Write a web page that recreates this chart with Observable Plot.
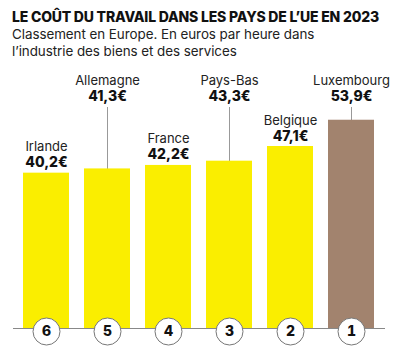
<!DOCTYPE html>
<html><head><meta charset="utf-8">
<script src="https://cdn.jsdelivr.net/npm/d3@7"></script>
<script src="https://cdn.jsdelivr.net/npm/@observablehq/plot@0.6"></script>
<style>
body{margin:0;background:#fff;font-family:Inter,"Noto Sans",sans-serif;width:398px;height:351px;overflow:hidden}
#hdr{height:64px;padding-left:12px;box-sizing:border-box}
#t{font-weight:800;font-size:14px;letter-spacing:-0.2px;padding-top:9px;line-height:16px;color:#111}
#s{font-size:13.4px;line-height:17px;color:#222;margin-top:1px;letter-spacing:-0.05px}
svg{display:block}
</style></head><body>
<div id="hdr"><div id="t">LE COÛT DU TRAVAIL DANS LES PAYS DE L’UE EN 2023</div>
<div id="s">Classement en Europe. En euros par heure dans<br>l’industrie des biens et des services</div></div>
<div id="chart"></div>
<script>
const countries = ["Irlande","Allemagne","France","Pays-Bas","Belgique","Luxembourg"];
const values = [40.2, 41.3, 42.2, 43.3, 47.1, 53.9];
const valueLabels = ["40,2€","41,3€","42,2€","43,3€","47,1€","53,9€"];
const ranks = [6,5,4,3,2,1];
const leaderLabels = ["Allemagne","Pays-Bas","Luxembourg"];
const highlight = "Luxembourg";

const data = countries.map((c,i)=>({country:c, value:values[i], label:valueLabels[i], rank:ranks[i]}));
const high = data.filter(d=>leaderLabels.includes(d.country));
const low = data.filter(d=>!leaderLabels.includes(d.country));

const H = 287, base = 264, k = 3.864;
const chart = Plot.plot({
  width: 398, height: H,
  marginTop: 0, marginLeft: 22, marginRight: 24, marginBottom: 0,
  x: {domain: countries, paddingInner: 0.25, paddingOuter: 0, axis: null},
  y: {domain: [0, 60], range: [base, base - 60*k], axis: null},
  color: {domain: [false, true], range: ["#FAEE00", "#A2836E"]},
  marks: [
    Plot.ruleX(high, {x: "country", stroke: "#999", strokeWidth: 1, insetTop: 43, insetBottom: 40}),
    Plot.barY(data, {x: "country", y: "value", fill: d => d.country === highlight}),
    Plot.ruleY([0], {stroke: "#888", strokeWidth: 1, insetLeft: -9, insetRight: -11}),
    Plot.dot(data, {x: "country", y: 0, r: 13.5, dy: 3, fill: "white", stroke: "#777", strokeWidth: 1}),
    Plot.text(data, {x: "country", y: 0, dy: 3, text: "rank", fontWeight: 800, fontSize: 14, fill: "#111", fontFamily: "Inter"}),
    Plot.text(low, {x: "country", y: "value", text: "country", lineAnchor: "bottom", dy: -22, fontSize: 13, fill: "#222", fontFamily: "Inter"}),
    Plot.text(low, {x: "country", y: "value", text: "label", lineAnchor: "bottom", dy: -6, fontSize: 14, fontWeight: 800, fill: "#111", fontFamily: "Inter"}),
    Plot.text(high, {x: "country", frameAnchor: "top", text: "country", lineAnchor: "bottom", dy: 20, fontSize: 13, fill: "#222", fontFamily: "Inter"}),
    Plot.text(high, {x: "country", frameAnchor: "top", text: "label", lineAnchor: "bottom", dy: 36, fontSize: 14, fontWeight: 800, fill: "#111", fontFamily: "Inter"})
  ]
});
document.getElementById("chart").appendChild(chart);
</script></body></html>
